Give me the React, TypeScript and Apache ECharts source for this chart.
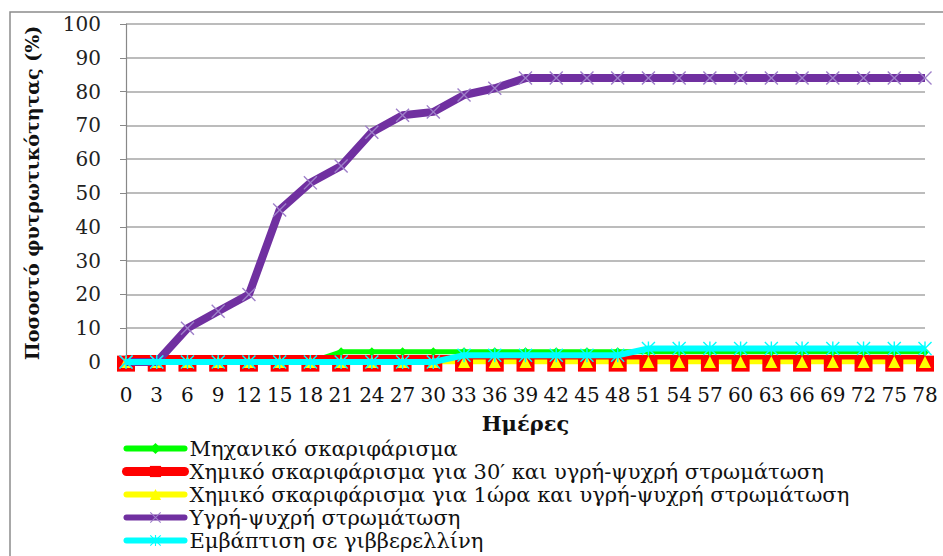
import React, { useEffect, useRef } from "react";
import * as echarts from "echarts";

const days = ["0", "3", "6", "9", "12", "15", "18", "21", "24", "27", "30", "33", "36", "39", "42", "45", "48", "51", "54", "57", "60", "63", "66", "69", "72", "75", "78"];
const yTicks = [0, 10, 20, 30, 40, 50, 60, 70, 80, 90, 100];

const mechanical = [0, 0, 0, 0, 0, 0, 0, 3, 3, 3, 3, 3, 3, 3, 3, 3, 3, 3, 3, 3, 3, 3, 3, 3, 3, 3, 3];
const chem30 = [1, 1, 1, 1, 1, 1, 1, 1, 1, 1, 1, 1, 1, 1, 1, 1, 1, 1, 1, 1, 1, 1, 1, 1, 1, 1, 1];
const chem1h = [0, 0, 0, 0, 0, 0, 0, 0, 0, 0, 0, 0, 0, 0, 0, 0, 0, 0, 0, 0, 0, 0, 0, 0, 0, 0, 0];
const coldStrat = [0, 0, 10, 15, 20, 45, 53, 58, 68, 73, 74, 79, 81, 84, 84, 84, 84, 84, 84, 84, 84, 84, 84, 84, 84, 84, 84];
const gibberellin = [0, 0, 0, 0, 0, 0, 0, 0, 0, 0, 0, 2, 2, 2, 2, 2, 2, 4, 4, 4, 4, 4, 4, 4, 4, 4, 4];

const seriesNames = [
  "Μηχανικό σκαριφάρισμα",
  "Χημικό σκαριφάρισμα για 30′ και υγρή-ψυχρή στρωμάτωση",
  "Χημικό σκαριφάρισμα για 1ώρα και υγρή-ψυχρή στρωμάτωση",
  "Υγρή-ψυχρή στρωμάτωση",
  "Εμβάπτιση σε γιββερελλίνη",
];
const colors = ["#00ff00", "#ff0000", "#ffff00", "#7030a0", "#00ffff"];
const legendWidths = [6, 9, 6, 6, 6];

const X_PATH = "path://M1.4,0 L20,18.6 L18.6,20 L0,1.4 Z M18.6,0 L20,1.4 L1.4,20 L0,18.6 Z";
const STAR_PATH = "path://M9,0 L11,0 L11,20 L9,20 Z M1.4,0 L20,18.6 L18.6,20 L0,1.4 Z M18.6,0 L20,1.4 L1.4,20 L0,18.6 Z";

const FONT = "'DejaVu Serif', 'Liberation Serif', serif";

export default function App() {
  const ref = useRef<HTMLDivElement>(null);
  useEffect(() => {
    if (!ref.current) return;
    const chart = echarts.init(ref.current, null, { renderer: "svg" });
    chart.setOption({
      animation: false,
      backgroundColor: "#ffffff",
      graphic: [
        {
          type: "rect",
          shape: { x: 10, y: 12, width: 1000, height: 1000 },
          style: { fill: "none", stroke: "#8c8c8c", lineWidth: 1.5 },
          silent: true,
        },
      ],
      grid: { left: 126, right: 18, top: 24, bottom: 194, containLabel: false },
      xAxis: {
        type: "category",
        data: days,
        boundaryGap: false,
        name: "Ημέρες",
        nameLocation: "middle",
        nameGap: 51,
        nameTextStyle: { fontFamily: FONT, fontSize: 21, fontWeight: "bold", color: "#111" },
        axisLine: { show: true, lineStyle: { color: "#888", width: 1 } },
        axisTick: { show: false },
        axisLabel: { interval: 0, margin: 23, fontFamily: FONT, fontSize: 20, color: "#111" },
        splitLine: { show: false },
      },
      yAxis: {
        type: "value",
        min: 0,
        max: 100,
        interval: 10,
        name: "Ποσοστό φυτρωτικότητας (%)",
        nameLocation: "middle",
        nameRotate: 90,
        nameGap: 85,
        nameTextStyle: { fontFamily: FONT, fontSize: 19, fontWeight: "bold", color: "#111" },
        axisLine: { show: true, lineStyle: { color: "#888", width: 1.2 } },
        axisTick: { show: true, inside: false, length: 6, lineStyle: { color: "#888" } },
        axisLabel: {
          margin: 25,
          fontFamily: FONT,
          fontSize: 20,
          color: "#222",
          formatter: (v: number) => (yTicks.includes(v) ? String(v) : ""),
        },
        splitLine: { show: true, lineStyle: { color: "#a6a6a6", width: 1.5 } },
      },
      legend: {
        orient: "vertical",
        left: 122,
        top: 438,
        height: 118,
        padding: 0,
        itemWidth: 58,
        itemHeight: 14,
        itemGap: 2,
        textStyle: { fontFamily: FONT, fontSize: 21, color: "#111" },
        data: seriesNames.map((n, i) => ({
          name: n,
          lineStyle: { width: legendWidths[i], color: colors[i], cap: "round" },
        })),
      },
      series: [
        {
          name: seriesNames[0],
          type: "line",
          z: 2,
          data: mechanical,
          symbol: "diamond",
          symbolSize: 9,
          lineStyle: { color: colors[0], width: 5 },
          itemStyle: { color: colors[0] },
        },
        {
          name: seriesNames[1],
          type: "line",
          z: 2,
          data: chem30,
          symbol: "rect",
          symbolSize: [18, 16],
          symbolOffset: [0, 5],
          lineStyle: { color: colors[1], width: 7 },
          itemStyle: { color: colors[1] },
        },
        {
          name: seriesNames[2],
          type: "line",
          z: 2,
          data: chem1h,
          symbol: "triangle",
          symbolSize: 12,
          lineStyle: { color: colors[2], width: 5 },
          itemStyle: { color: colors[2] },
        },
        {
          name: seriesNames[3],
          type: "line",
          z: 3,
          data: coldStrat,
          symbol: X_PATH,
          symbolSize: 14,
          lineStyle: { color: colors[3], width: 8 },
          itemStyle: { color: "#9e7fc9" },
        },
        {
          name: seriesNames[4],
          type: "line",
          z: 4,
          data: gibberellin,
          symbol: STAR_PATH,
          symbolSize: 14,
          lineStyle: { color: colors[4], width: 6 },
          itemStyle: { color: colors[4] },
        },
      ],
    });
    return () => chart.dispose();
  }, []);
  return (
    <div
      ref={ref}
      style={{ position: "fixed", left: 0, top: 0, width: 943, height: 556 }}
    />
  );
}
